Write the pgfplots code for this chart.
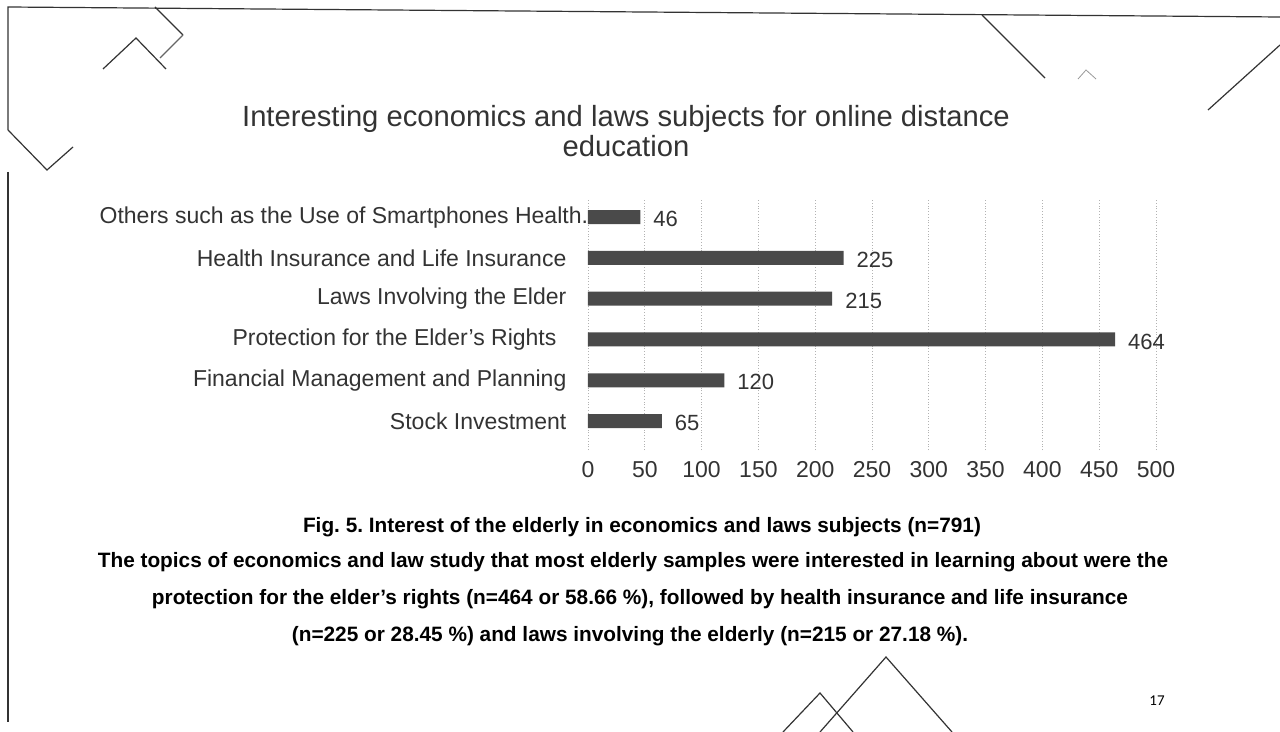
\documentclass[border=0pt]{standalone}
\usepackage{pgfplots}
\pgfplotsset{compat=1.18}
\usepackage{fontspec}
\setmainfont{Liberation Sans}
\newfontfamily\pnfont{Carlito}
\definecolor{txt}{HTML}{333333}
\definecolor{barc}{HTML}{4A4A4A}
\begin{document}
\begin{tikzpicture}
\useasboundingbox[fill=white] (0,0) rectangle (640pt,-366pt);
\begin{scope}[x=0.5pt,y=-0.5pt]
% decorative slide lines
\draw[line width=0.6pt, black!80] (8,130) -- (8,7) -- (1280,17);
\draw[line width=0.6pt, black!80] (155,7) -- (183,35);
\draw[line width=0.6pt, black!80] (8,130) -- (47,170) -- (73,147);
\draw[line width=0.6pt, black!80] (103,69) -- (136,38) -- (166,69);
\draw[line width=0.6pt, black!60] (160,58) -- (183,35);
\draw[line width=0.6pt, black!80] (8,172) -- (8,722);
\draw[line width=0.6pt, black!80] (982,15) -- (1045,78);
\draw[line width=0.4pt, black!40] (1078,79) -- (1086,70) -- (1096,79);
\draw[line width=0.6pt, black!80] (1280,45) -- (1208,110);
\draw[line width=0.6pt, black!80] (783,732) -- (820,693) -- (853,732);
\draw[line width=0.6pt, black!80] (820,732) -- (886,657) -- (952,732);
% title
\node[txt, align=center, font=\fontsize{14.6}{15}\selectfont] at (626,131)
  {Interesting economics and laws subjects for online distance\\education};
% caption
\node[font=\bfseries\fontsize{10.4}{11}\selectfont] at (642,527)
  {Fig.\ 5.\ Interest of the elderly in economics and laws subjects (n=791)};
\node[font=\bfseries\fontsize{10.4}{11}\selectfont] at (633,562)
  {The topics of economics and law study that most elderly samples were interested in learning about were the};
\node[font=\bfseries\fontsize{10.4}{11}\selectfont] at (640,599)
  {protection for the elder's rights (n=464 or 58.66 \%), followed by health insurance and life insurance};
\node[font=\bfseries\fontsize{10.4}{11}\selectfont] at (630,636)
  {(n=225 or 28.45 \%) and laws involving the elderly (n=215 or 27.18 \%).};
\node[font=\pnfont\fontsize{7.5}{8}\selectfont] at (1157,701) {17};
\end{scope}
\begin{axis}[
  at={(294pt,-225pt)}, anchor=south west,
  scale only axis, width=284pt, height=125pt,
  xmin=0, xmax=500, ymin=-0.71, ymax=5.42,
  xbar, bar width=7pt,
  axis line style={draw=none},
  tick style={draw=none},
  xtick={0,50,...,500},
  ytick={0,1,2,3,4,5},
  yticklabels={Stock Investment, Financial Management and Planning, Protection for the Elder's Rights\hspace*{5pt}, Laws Involving the Elder, Health Insurance and Life Insurance, Others such as the Use of Smartphones Health..\hspace*{-14pt}},
  xmajorgrids, grid style={densely dotted, black!30},
  /pgf/number format/assume math mode=true,
  ticklabel style={text=txt},
  xticklabel style={font=\fontsize{11.5}{12}\selectfont, yshift=-2pt},
  yticklabel style={font=\fontsize{11.5}{12}\selectfont, xshift=-3pt},
  nodes near coords,
  every node near coord/.append style={font=\fontsize{11}{12}\selectfont, text=txt, xshift=3pt, yshift=-1pt},
]
\addplot[fill=barc, draw=none] coordinates {(65,0) (120,1) (464,2) (215,3) (225,4) (46,5)};
\end{axis}
\end{tikzpicture}
\end{document}
